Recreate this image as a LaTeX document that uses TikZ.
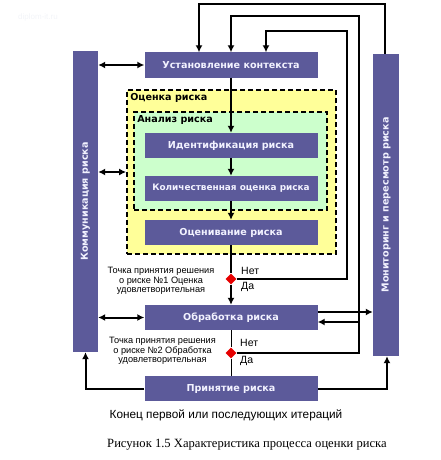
\documentclass[tikz,border=0pt]{standalone}
\usepackage{fontspec}
\setmainfont{Liberation Sans}
\newfontfamily\boxfont{DejaVu Sans}
\newfontfamily\captionserif{Liberation Serif}
\usetikzlibrary{arrows.meta,shapes.geometric}

\definecolor{r92g90b154}{rgb}{0.360000,0.352000,0.604000}%
\definecolor{r242g242b255}{rgb}{0.950000,0.950000,1.000000}%
\definecolor{r255g255b153}{rgb}{1.000000,1.000000,0.600000}%
\definecolor{r204g255b204}{rgb}{0.800000,1.000000,0.800000}%
\definecolor{r230g0b0}{rgb}{0.902000,0.000000,0.000000}%
\definecolor{r242g244b248}{rgb}{0.950000,0.957000,0.973000}%

\tikzset{
  stagebox/.style={fill=r92g90b154, text=r242g242b255, inner sep=0pt,
    minimum width=173pt, minimum height=25pt,
    font=\boxfont\bfseries\fontsize{9.6}{12}\selectfont},
  sidebox/.style={fill=r92g90b154, inner sep=0pt, minimum width=25pt},
  sidetext/.style={rotate=90, text=r242g242b255,
    font=\boxfont\bfseries\fontsize{9.6}{12}\selectfont},
  groupbox/.style={draw, line width=1.8pt, inner sep=0pt,
    dash pattern=on 5pt off 3pt},
  grouptext/.style={anchor=north west, inner sep=0pt,
    font=\boxfont\bfseries\fontsize{9.6}{12}\selectfont},
  decision/.style={diamond, fill=r230g0b0, inner sep=0pt,
    minimum width=11pt, minimum height=11pt},
  flowline/.style={line width=2pt},
  flowarrow/.style={line width=2pt, -{Latex[length=7pt,width=7pt]}},
  dualarrow/.style={line width=2pt,
    {Latex[length=7pt,width=7pt]}-{Latex[length=7pt,width=7pt]}},
  thinline/.style={line width=0.9pt},
  notetext/.style={align=center, inner sep=0pt,
    font=\fontsize{9.2}{9.6}\selectfont},
  answertext/.style={anchor=west, inner sep=0pt,
    font=\fontsize{10.5}{12}\selectfont},
}

\begin{document}
\begin{tikzpicture}[x=1pt,y=-1pt]
                        \useasboundingbox (0,0) rectangle (440,460);
                        
                        % Watermark
                        \node [text=r242g244b248, font=\fontsize{8}{9}\selectfont] (mark) at (38,17) {diplom-it.ru};%
                        
                        % Drawing groups
                        \node [groupbox, fill=r255g255b153, minimum width=209pt, minimum height=164pt] (assess) at (231.5,172) {};%
                        \node [grouptext] at ([xshift=4pt,yshift=-4pt]assess.north west) {Оценка риска};%
                        \node [groupbox, fill=r204g255b204, minimum width=193pt, minimum height=98pt] (analysis) at (230.5,161) {};%
                        \node [grouptext] at ([xshift=4pt,yshift=-4pt]analysis.north west) {Анализ риска};%
                        
                        % Drawing stages
                        \node [stagebox] (ctx) at (231,65) {Установление контекста};%
                        \node [stagebox] (ident) at (231,145.5) {Идентификация риска};%
                        \node [stagebox, font=\boxfont\bfseries\fontsize{8.9}{12}\selectfont] (quant) at (231,188.5) {Количественная оценка риска};%
                        \node [stagebox] (eval) at (231,232.5) {Оценивание риска};%
                        \node [stagebox] (treat) at (231,317.5) {Обработка риска};%
                        \node [stagebox] (accept) at (231,388.5) {Принятие риска};%
                        
                        % Drawing side boxes
                        \node [sidebox, minimum height=301pt] (comm) at (85.5,201.5) {};%
                        \node [sidetext] at (comm.center) {Коммуникация риска};%
                        \node [sidebox, minimum height=302pt, minimum width=26pt] (mon) at (386,205) {};%
                        \node [sidetext] at (mon.center) {Мониторинг и пересмотр риска};%
                        
                        % Marking decision points
                        \node [decision] (dec1) at (231,279) {};%
                        \node [decision] (dec2) at (231,353) {};%
                        \node [notetext] (note1) at (161,281) {Точка принятия решения\\о риске №1 Оценка\\удовлетворительная};%
                        \node [notetext] (note2) at (162.5,351) {Точка принятия решения\\о риске №2 Обработка\\удовлетворительная};%
                        \node [answertext] (no1) at ([xshift=10pt,yshift=8pt]dec1.center) {Нет};%
                        \node [answertext] (yes1) at ([xshift=10pt,yshift=-8pt]dec1.center) {Да};%
                        \node [answertext] (no2) at ([xshift=9pt,yshift=10pt]dec2.center) {Нет};%
                        \node [answertext] (yes2) at ([xshift=9pt,yshift=-8pt]dec2.center) {Да};%
                        
                        % Drawing main flow
                        \draw [flowarrow] (ctx.south) -- (ident.north);%
                        \draw [flowarrow] (ident.south) -- (quant.north);%
                        \draw [flowarrow] (quant.south) -- (eval.north);%
                        \draw [flowline] (eval.south) -- (dec1.north);%
                        \draw [flowarrow] (dec1.south) -- (treat.north);%
                        \draw [thinline] (treat.south) -- (dec2.north);%
                        \draw [thinline] (dec2.south) -- (accept.north);%
                        
                        % Drawing communication links
                        \draw [dualarrow] (comm.east |- ctx.west) -- (ctx.west);%
                        \draw [dualarrow] (comm.east |- assess.west) -- (assess.west);%
                        \draw [dualarrow] (comm.east |- treat.west) -- (treat.west);%
                        
                        % Drawing feedback loops
                        \coordinate (innerturn) at (347,31);%
                        \coordinate (midturn) at (359,16);%
                        \coordinate (outerturn) at (199,4);%
                        \coordinate (backin) at (359,322);%
                        \draw [flowarrow] (dec1.east) -| (innerturn) -| ([xshift=35pt]ctx.north);%
                        \draw [flowarrow] (dec2.east) -| (midturn) -| (ctx.north);%
                        \draw [flowarrow] (backin) -- (backin -| treat.east);%
                        \draw [flowarrow] ([yshift=5.5pt]treat.east) -- ([yshift=5.5pt]treat.east -| mon.west);%
                        \draw [flowarrow] ([xshift=-1pt]mon.north) |- (outerturn) -- (outerturn |- ctx.north);%
                        
                        % Drawing end of iteration
                        \draw [flowarrow] (accept.west) -| (comm.south);%
                        \draw [flowarrow] (accept.east) -| ([xshift=1pt]mon.south);%
                        
                        % Marking captions
                        \node [font=\fontsize{11.8}{13}\selectfont] (iterend) at (226,415) {Конец первой или последующих итераций};%
                        \node [font=\captionserif\fontsize{12.6}{14}\selectfont] (figcap) at (247,445) {Рисунок 1.5 Характеристика процесса оценки риска};%
\end{tikzpicture}
\end{document}
